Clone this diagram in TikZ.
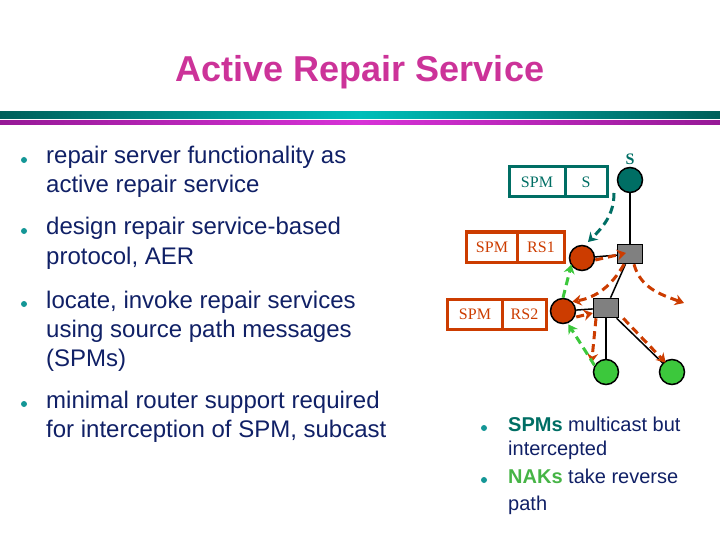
\documentclass[tikz,border=0pt]{standalone}
\usepackage{fontspec}
\setmainfont{Liberation Sans}
\newfontfamily\labelfont{Liberation Serif}
\usetikzlibrary{arrows.meta, positioning}
\definecolor{titlemag}{RGB}{204,51,153}
\definecolor{navytext}{RGB}{16,32,102}
\definecolor{tealdark}{RGB}{0,95,90}
\definecolor{teallight}{RGB}{0,190,185}
\definecolor{magdark}{RGB}{150,25,150}
\definecolor{maglight}{RGB}{215,50,215}
\definecolor{spmteal}{RGB}{0,110,100}
\definecolor{rsred}{RGB}{204,60,0}
\definecolor{leafgreen}{RGB}{60,200,60}
\definecolor{nakgreen}{RGB}{70,180,70}
\definecolor{bulletteal}{RGB}{20,150,150}
\tikzset{
  bullet/.style={circle, fill=bulletteal, inner sep=0pt, minimum size=6pt},
  item/.style={anchor=base west, align=left, text=navytext, inner sep=0pt},
  pktbox/.style={draw, line width=3pt, outer sep=0pt, inner sep=0pt,
    minimum height=30pt, font=\labelfont\fontsize{16}{18}\selectfont},
  hostnode/.style={circle, draw=black, line width=1.5pt, minimum size=25pt, inner sep=0pt},
  router/.style={rectangle, draw=black, line width=1.5pt, fill=gray,
    minimum width=25pt, minimum height=19pt, inner sep=0pt},
  link/.style={line width=1.5pt},
  msg/.style={line width=3pt, dash pattern=on 8pt off 5pt,
    -{Stealth[length=9pt,width=11pt]}},
}

\begin{document}
\begin{tikzpicture}[x=1pt, y=-1pt, >=Stealth]
    \useasboundingbox (0,0) rectangle (720,540);
    % title and rules
    \node[font=\bfseries\fontsize{36}{40}\selectfont, text=titlemag, anchor=base] (title) at (360,82) {Active Repair Service};
    \shade[left color=tealdark, right color=tealdark, middle color=teallight] (0,112) rectangle (720,119);
    \shade[left color=magdark, right color=magdark, middle color=maglight] (0,121) rectangle (720,125);

    % left list (node placed at baseline of its last line)
    \begin{scope}[font=\fontsize{24}{29}\selectfont]
    \node[bullet] (b1) at (24,160) {};
    \node[item] (t1) at (46,193) {repair server functionality as\\active repair service};
    \node[bullet] (b2) at (24,231) {};
    \node[item] (t2) at (46,264) {design repair service-based\\protocol, AER};
    \node[bullet] (b3) at (24,304) {};
    \node[item] (t3) at (46,366) {locate, invoke repair services\\using source path messages\\(SPMs)};
    \node[bullet] (b4) at (24,404) {};
    \node[item] (t4) at (46,437) {minimal router support required\\for interception of SPM, subcast};
    \end{scope}

    % tree
    \node[hostnode, fill=spmteal] (src) at (630,180) {};
    \node[font=\labelfont\bfseries\fontsize{16}{18}\selectfont, text=spmteal] (srclbl) at (630,159) {S};
    \node[router] (r1) at (630,254) {};
    \node[router] (r2) at (606,308) {};
    \node[hostnode, fill=rsred] (rs1) at (582,258) {};
    \node[hostnode, fill=rsred] (rs2) at (563,311) {};
    \node[hostnode, fill=leafgreen] (rcv1) at (606,372) {};
    \node[hostnode, fill=leafgreen] (rcv2) at (672,372) {};
    \draw[link] (src) -- (r1);
    \draw[link] (rs1) -- (r1);
    \draw[link] (r1) -- (r2);
    \draw[link] (rs2) -- (r2);
    \draw[link] (r2) -- (rcv1);
    \draw[link] (r2) -- (rcv2);

    % SPM headers
    \node[pktbox, draw=spmteal, text=spmteal, minimum width=56pt] (spmS) at (537,182) {SPM};
    \node[pktbox, draw=spmteal, text=spmteal, minimum width=42pt, right=0pt of spmS] (idS) {S};
    \node[pktbox, draw=rsred, text=rsred, minimum width=51pt] (spmR1) at (492,247) {SPM};
    \node[pktbox, draw=rsred, text=rsred, minimum width=47pt, right=0pt of spmR1] (idR1) {RS1};
    \node[pktbox, draw=rsred, text=rsred, minimum width=55pt] (spmR2) at (475,314) {SPM};
    \node[pktbox, draw=rsred, text=rsred, minimum width=44pt, right=0pt of spmR2] (idR2) {RS2};

    % messages
    \coordinate (spmtip) at (588,242);
    \coordinate (farend) at (684,303);
    \draw[msg, spmteal] ([xshift=7pt,yshift=4pt]idS.south east) to[out=-90, in=45] (spmtip);
    \draw[msg, rsred] ([yshift=-2pt]rs1.east) -- ([xshift=-4pt,yshift=1pt]r1.center);
    \draw[msg, rsred] ([xshift=4pt]r1.south) to[out=-75, in=160] (farend);
    \draw[msg, rsred] ([xshift=-6pt]r1.south) to[out=-120, in=10] (rs2.north east);
    \draw[msg, rsred] ([yshift=-6pt]rs2.east) -- ([yshift=-5pt]r2.west);
    \draw[msg, rsred] ([xshift=-10pt]r2.south) -- ([xshift=-5pt]rcv1.north west);
    \draw[msg, rsred] ([xshift=4pt]r2.south east) -- ([xshift=3pt]rcv2.north west);
    \draw[msg, leafgreen] (rcv1.150) -- ([xshift=-4pt,yshift=-4pt]rs2.south east);
    \draw[msg, leafgreen] (rs2.north) -- ([shift={(-4pt,5pt)}]rs1.240);

    % right list
    \node[bullet] (b5) at (484,428) {};
    \node[item, font=\fontsize{20}{24}\selectfont] (t5) at (508,455) {\textcolor{spmteal}{\bfseries SPMs} multicast but\\intercepted};
    \node[bullet] (b6) at (484,480) {};
    \node[item, font=\fontsize{20}{27}\selectfont] (t6) at (508,510) {\textcolor{nakgreen}{\bfseries NAKs} take reverse\\path};
\end{tikzpicture}
\end{document}
